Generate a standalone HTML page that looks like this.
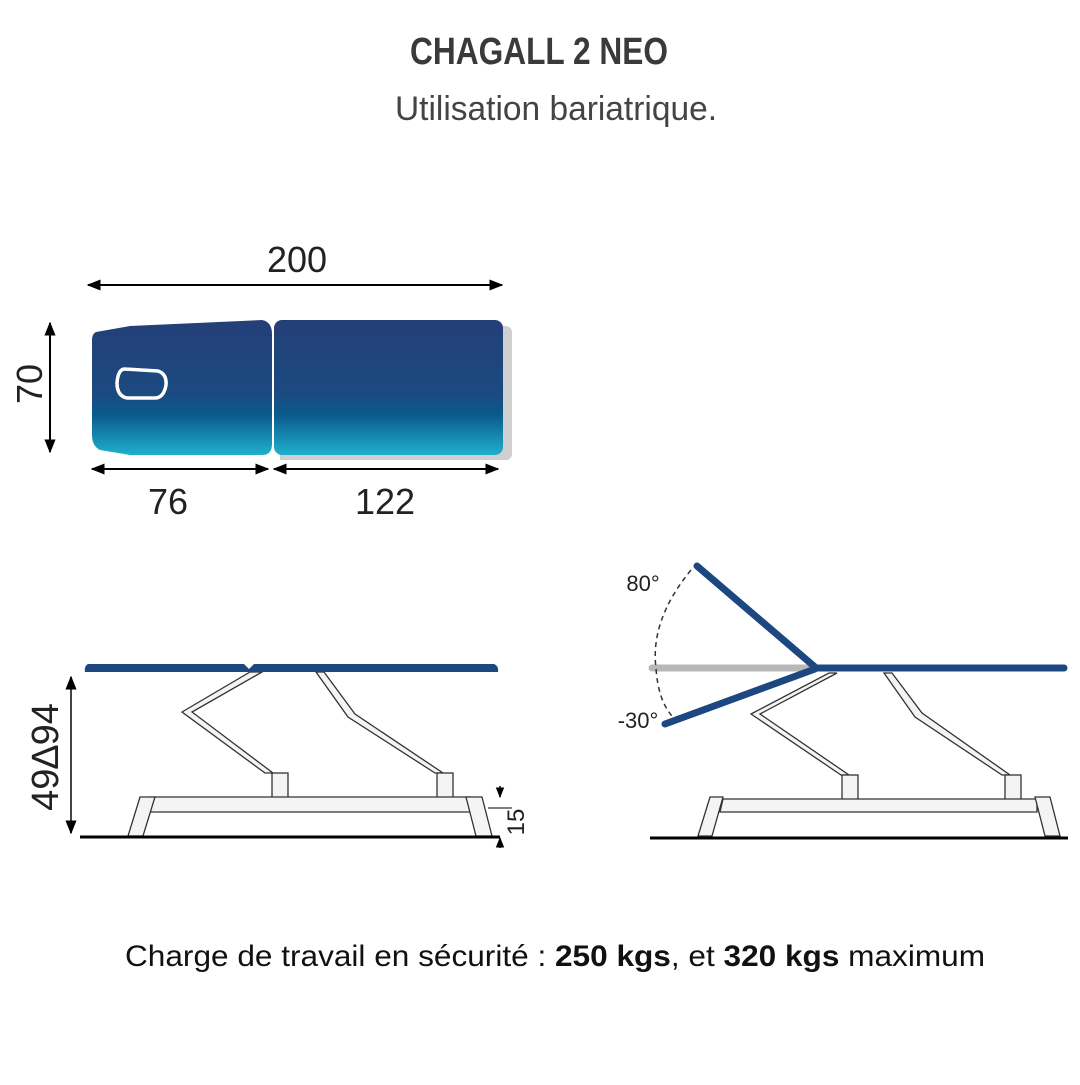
<!DOCTYPE html>
<html><head><meta charset="utf-8"><style>html,body{margin:0;padding:0;background:#fff}</style></head>
<body>
<svg width="1080" height="1080" viewBox="0 0 1080 1080" xmlns="http://www.w3.org/2000/svg" font-family="Liberation Sans, sans-serif">
<defs>
<linearGradient id="g" x1="0" y1="0" x2="0" y2="1">
<stop offset="0" stop-color="#243f78"/><stop offset="0.55" stop-color="#1b4a80"/><stop offset="0.7" stop-color="#0a5a8c"/><stop offset="1" stop-color="#1fb0cc"/>
</linearGradient>
<marker id="a" viewBox="0 0 10 10" refX="9" refY="5" markerWidth="7" markerHeight="7" orient="auto-start-reverse"><path d="M0,1 L10,5 L0,9 z" fill="#000"/></marker>
</defs>
<text x="539" y="64" text-anchor="middle" font-size="38" font-weight="bold" fill="#3a3a3a" textLength="258" lengthAdjust="spacingAndGlyphs">CHAGALL 2 NEO</text>
<text x="556" y="120" text-anchor="middle" font-size="34" fill="#444" textLength="322" lengthAdjust="spacingAndGlyphs">Utilisation bariatrique.</text>

<!-- top view -->
<line x1="88" y1="285" x2="502" y2="285" stroke="#000" stroke-width="2" marker-start="url(#a)" marker-end="url(#a)"/>
<text x="297" y="272" text-anchor="middle" font-size="36" fill="#222">200</text>
<line x1="50" y1="323" x2="50" y2="452" stroke="#000" stroke-width="2" marker-start="url(#a)" marker-end="url(#a)"/>
<text transform="translate(42,384) rotate(-90)" text-anchor="middle" font-size="36" fill="#222">70</text>
<path d="M280,326 h226 a6,6 0 0 1 6,6 v122 a6,6 0 0 1 -6,6 h-226z" fill="#cfcfcf"/>
<path d="M96,332 L130,326 L262,320 Q272,322 272,334 V444 Q272,455 262,455 L130,455 L100,450 Q92,446 92,435 V340 Q92,334 96,332z" fill="url(#g)"/>
<rect x="274" y="320" width="229" height="135" rx="8" fill="url(#g)"/>
<path d="M124,369 L158,371 Q167,374 166,385 Q164,397 156,398 L127,398 Q117,396 117,383 Q118,370 124,369z" fill="none" stroke="#fff" stroke-width="3.5"/>
<line x1="92" y1="469" x2="268" y2="469" stroke="#000" stroke-width="2" marker-start="url(#a)" marker-end="url(#a)"/>
<line x1="274" y1="469" x2="498" y2="469" stroke="#000" stroke-width="2" marker-start="url(#a)" marker-end="url(#a)"/>
<text x="168" y="514" text-anchor="middle" font-size="36" fill="#222">76</text>
<text x="385" y="514" text-anchor="middle" font-size="36" fill="#222">122</text>

<!-- left side view -->
<g stroke="#333" stroke-width="1.3" fill="#f4f4f4">
<polygon points="250,672 262,672 192,712 273,773 265,773 182,712"/>
<polygon points="316,672 324,672 355,714 443,773 435,773 348,717"/>
<rect x="272" y="773" width="16" height="27"/>
<rect x="437" y="773" width="16" height="27"/>
<polygon points="150,797 470,797 470,812 148,812"/>
<polygon points="140,797 155,797 143,836 128,836"/>
<polygon points="466,797 482,797 492,836 476,836"/>
</g>
<path d="M88,664 H244 L249,669 L254,664 H494 Q499,666 498,672 H85 Q84,666 88,664z" fill="#1c4780"/>
<line x1="80" y1="837" x2="500" y2="837" stroke="#000" stroke-width="3"/>
<line x1="71" y1="677" x2="71" y2="833" stroke="#444" stroke-width="2" marker-start="url(#a)" marker-end="url(#a)"/>
<text transform="translate(58,757) rotate(-90)" text-anchor="middle" font-size="38" fill="#222">49∆94</text>
<line x1="500" y1="786" x2="500" y2="797" stroke="#000" stroke-width="1.5" marker-end="url(#a)"/>
<line x1="500" y1="848" x2="500" y2="838" stroke="#000" stroke-width="1.5" marker-end="url(#a)"/>
<line x1="488" y1="808" x2="512" y2="808" stroke="#000" stroke-width="1"/>
<text transform="translate(524,822) rotate(-90)" text-anchor="middle" font-size="24" fill="#222">15</text>

<!-- right side view -->
<g stroke="#333" stroke-width="1.3" fill="#f4f4f4">
<polygon points="829,673 837,673 760,714 849,775 841,775 751,714"/>
<polygon points="884,673 892,673 922,713 1010,775 1002,775 915,717"/>
<rect x="842" y="775" width="16" height="26"/>
<rect x="1005" y="775" width="16" height="26"/>
<polygon points="723,799 1037,799 1037,812 720,812"/>
<polygon points="710,797 723,797 712,836 698,836"/>
<polygon points="1035,797 1050,797 1060,836 1045,836"/>
</g>
<line x1="652" y1="668" x2="816" y2="668" stroke="#b8b8b8" stroke-width="7" stroke-linecap="round"/>
<line x1="818" y1="668" x2="1064" y2="668" stroke="#1c4780" stroke-width="7" stroke-linecap="round"/>
<line x1="815" y1="667" x2="697" y2="566" stroke="#1c4780" stroke-width="7" stroke-linecap="round"/>
<line x1="815" y1="669" x2="665" y2="724" stroke="#1c4780" stroke-width="7" stroke-linecap="round"/>
<path d="M691,570 Q650,620 656,668 Q658,700 672,716" fill="none" stroke="#333" stroke-width="1.5" stroke-dasharray="5,4"/>
<text x="643" y="591" text-anchor="middle" font-size="22" fill="#222">80°</text>
<text x="638" y="728" text-anchor="middle" font-size="22" fill="#222">-30°</text>
<line x1="650" y1="838" x2="1068" y2="838" stroke="#000" stroke-width="3"/>

<text x="555" y="966" text-anchor="middle" font-size="30" fill="#111" textLength="860" lengthAdjust="spacingAndGlyphs">Charge de travail en sécurité : <tspan font-weight="bold">250 kgs</tspan>, et <tspan font-weight="bold">320 kgs</tspan> maximum</text>
</svg>
</body></html>
